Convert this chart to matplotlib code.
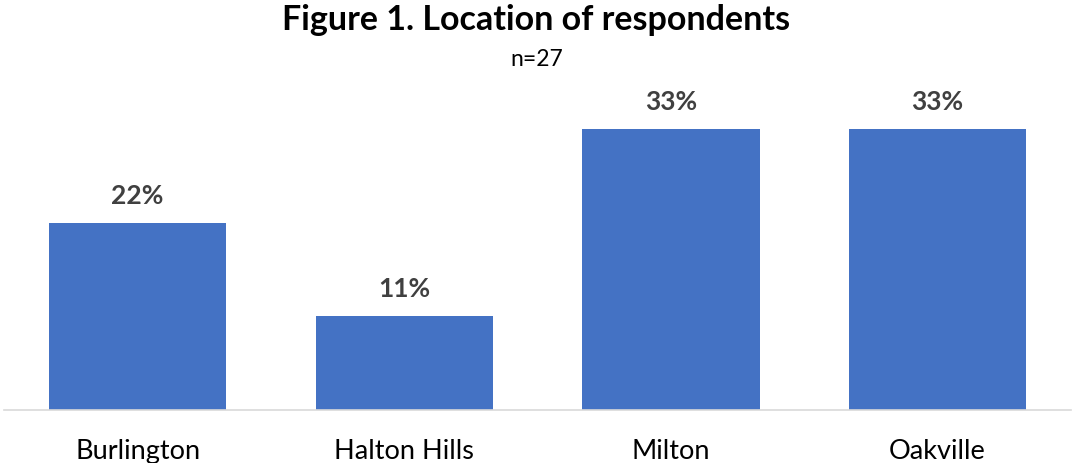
import matplotlib.pyplot as plt

plt.rcParams['font.family'] = ['Lato', 'DejaVu Sans']

# data (n=27 respondents)
locations = ["Burlington", "Halton Hills", "Milton", "Oakville"]
shares = [22.2, 11.1, 33.3, 33.3]
share_labels = ["22%", "11%", "33%", "33%"]

fig = plt.figure(figsize=(10.73, 4.64), dpi=100)
ax = fig.add_axes([0.004, 0.1142, 0.994, 0.6724])

x = range(len(locations))
bars = ax.bar(x, shares, width=0.665, color='#4472C4')

for bar, lab in zip(bars, share_labels):
    ax.text(bar.get_x() + bar.get_width() / 2, bar.get_height() + 2.37, lab,
            ha='center', va='baseline', fontsize=19, fontweight='bold', color='#404040')

ax.set_xlim(-0.5, 3.5)
ax.set_ylim(0, 37)
ax.set_xticks(list(x))
ax.set_xticklabels(locations, fontsize=19.5, color='black')
ax.tick_params(axis='x', length=0, pad=20)
ax.set_yticks([])
for side in ['top', 'right', 'left']:
    ax.spines[side].set_visible(False)
ax.spines['bottom'].set_color('#D9D9D9')
ax.spines['bottom'].set_linewidth(1.2)

fig.text(0.5, 0.935, "Figure 1. Location of respondents", ha='center', va='baseline',
         fontsize=24.5, fontweight='bold')
fig.text(0.5, 0.858, "n=27", ha='center', va='baseline', fontsize=16.5)

plt.savefig('out.png', dpi=100)
